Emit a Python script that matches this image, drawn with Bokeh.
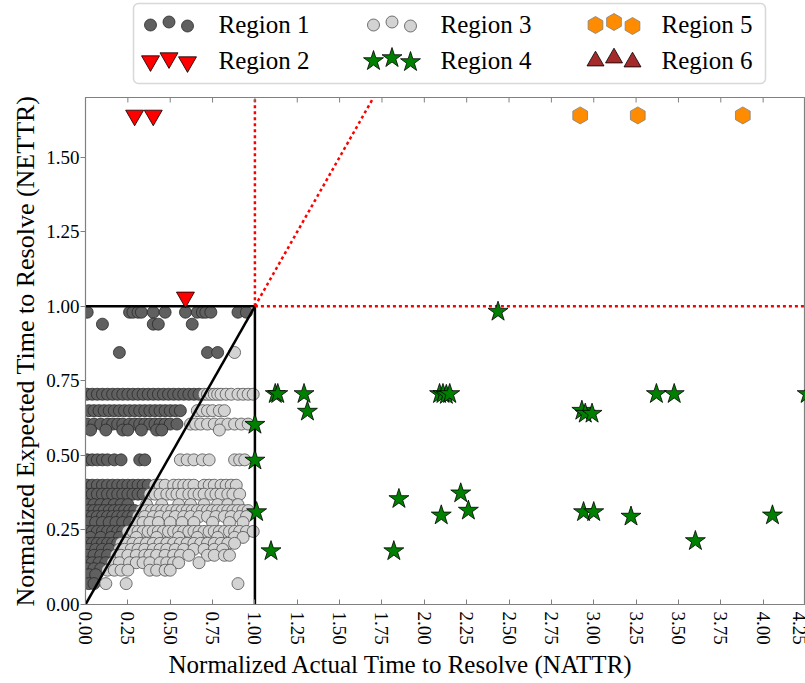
from math import pi

from bokeh.core.properties import value
from bokeh.embed import file_html
from bokeh.layouts import column
from bokeh.models import (BoxAnnotation, FixedTicker, NumeralTickFormatter, Range1d, Title)
from bokeh.plotting import figure
from bokeh.resources import INLINE

FONT = "Liberation Serif"

# ---------------------------------------------------------------- data
# Region 1: NATTR < NETTR inside the unit box (one list of NATTR values per NETTR level)
r1_levels = [0.98, 0.94, 0.845, 0.705, 0.65, 0.605, 0.585, 0.485, 0.40, 0.37, 0.335,
             0.315, 0.295, 0.275, 0.245, 0.225, 0.205, 0.185, 0.165, 0.14, 0.12, 0.10, 0.07]
r1_nattr = [
    [0.01, 0.26, 0.28, 0.31, 0.33, 0.40, 0.47, 0.59, 0.66, 0.69, 0.71, 0.74, 0.90, 0.95],
    [0.10, 0.40, 0.43, 0.63],
    [0.20, 0.72, 0.78],
    [0.01, 0.04, 0.07, 0.10, 0.13, 0.16, 0.19, 0.22, 0.25, 0.28, 0.31, 0.34, 0.37, 0.40,
     0.43, 0.46, 0.49, 0.52, 0.55, 0.58, 0.61, 0.64, 0.67],
    [0.02, 0.05, 0.08, 0.11, 0.14, 0.17, 0.20, 0.23, 0.26, 0.29, 0.32, 0.35, 0.38, 0.41,
     0.44, 0.47, 0.50, 0.53, 0.56],
    [0.01, 0.05, 0.09, 0.13, 0.16, 0.19, 0.22, 0.26, 0.29, 0.32, 0.35, 0.38, 0.41, 0.44,
     0.47, 0.50, 0.54],
    [0.03, 0.12, 0.22, 0.25, 0.33, 0.42, 0.45],
    [0.01, 0.04, 0.07, 0.10, 0.13, 0.17, 0.21, 0.32, 0.35],
    [0.01, 0.04, 0.07, 0.10, 0.13, 0.16, 0.19, 0.22, 0.25, 0.28, 0.31, 0.34, 0.37],
    [0.01, 0.04, 0.07, 0.10, 0.13, 0.16, 0.19, 0.22, 0.25, 0.28, 0.31, 0.34],
    [0.01, 0.05, 0.09, 0.13, 0.17, 0.21, 0.25],
    [0.02, 0.05, 0.08, 0.11, 0.14, 0.17, 0.20, 0.23, 0.26, 0.29],
    [0.01, 0.04, 0.07, 0.10, 0.13, 0.16, 0.19, 0.22, 0.25, 0.28],
    [0.02, 0.06, 0.10, 0.14, 0.18, 0.22, 0.26],
    [0.01, 0.04, 0.07, 0.10, 0.13, 0.16, 0.19, 0.22],
    [0.03, 0.09, 0.15, 0.20],
    [0.01, 0.04, 0.07, 0.10, 0.13, 0.16, 0.19],
    [0.02, 0.06, 0.10, 0.14],
    [0.01, 0.05, 0.09, 0.13],
    [0.01, 0.04, 0.08, 0.12],
    [0.01, 0.05, 0.09],
    [0.02, 0.06],
    [0.02, 0.05],
]

# Region 3: NATTR > NETTR inside the unit box
r3_levels = [0.845, 0.705, 0.65, 0.605, 0.585, 0.485, 0.40, 0.37, 0.335, 0.315, 0.295,
             0.275, 0.245, 0.225, 0.205, 0.185, 0.165, 0.14, 0.115, 0.07]
r3_nattr = [
    [0.88],
    [0.70, 0.72, 0.74, 0.76, 0.78, 0.80, 0.83, 0.86, 0.90, 0.93, 0.96, 0.99],
    [0.66, 0.69, 0.72, 0.75, 0.79, 0.82],
    [0.62, 0.65, 0.68, 0.72, 0.76, 0.80, 0.84, 0.88, 0.92, 0.96],
    [0.79],
    [0.56, 0.60, 0.64, 0.69, 0.73, 0.88, 0.91, 0.94],
    [0.41, 0.44, 0.47, 0.52, 0.55, 0.58, 0.61, 0.64, 0.70, 0.73, 0.76, 0.80, 0.83, 0.86, 0.89],
    [0.38, 0.41, 0.44, 0.48, 0.51, 0.54, 0.57, 0.61, 0.64, 0.67, 0.70, 0.74, 0.77, 0.80,
     0.84, 0.87, 0.91],
    [0.36, 0.45, 0.55, 0.62, 0.70, 0.78, 0.84, 0.90],
    [0.33, 0.36, 0.39, 0.42, 0.45, 0.48, 0.51, 0.54, 0.57, 0.60, 0.63, 0.66, 0.69, 0.72,
     0.75, 0.78, 0.81, 0.84, 0.87, 0.90, 0.93, 0.96],
    [0.31, 0.35, 0.40, 0.44, 0.49, 0.53, 0.58, 0.62, 0.67, 0.72, 0.77, 0.82, 0.86, 0.91, 0.95],
    [0.30, 0.34, 0.38, 0.43, 0.50, 0.57, 0.64, 0.75, 0.85, 0.93],
    [0.25, 0.28, 0.31, 0.34, 0.37, 0.40, 0.43, 0.46, 0.49, 0.52, 0.55, 0.58, 0.61, 0.64,
     0.67, 0.70, 0.73, 0.76, 0.79, 0.82, 0.85, 0.88, 0.91, 0.95, 0.99],
    [0.30, 0.42, 0.55, 0.66, 0.78, 0.88, 0.93],
    [0.21, 0.24, 0.28, 0.32, 0.36, 0.40, 0.44, 0.48, 0.52, 0.56, 0.60, 0.64, 0.68, 0.72,
     0.76, 0.80, 0.84, 0.88],
    [0.20, 0.23, 0.27, 0.31, 0.35, 0.40, 0.44, 0.48, 0.53, 0.58, 0.64, 0.70, 0.76, 0.81],
    [0.18, 0.21, 0.25, 0.30, 0.35, 0.38, 0.42, 0.47, 0.52, 0.56, 0.61, 0.72, 0.76, 0.82, 0.85],
    [0.16, 0.20, 0.26, 0.30, 0.34, 0.38, 0.44, 0.48, 0.52, 0.55, 0.67],
    [0.13, 0.17, 0.21, 0.25, 0.38, 0.42, 0.47, 0.50],
    [0.12, 0.24, 0.90],
]

# Region 2: NETTR above the box, NATTR inside it
r2_x = [0.29, 0.40, 0.59]
r2_y = [1.64, 1.64, 1.03]

# Region 4: NATTR above 1, NETTR below 1
r4_x = [1.12, 1.135, 1.29, 1.31, 1.00, 1.00, 1.01, 1.095, 1.82, 1.85, 2.10, 2.215, 2.26,
        2.09, 2.11, 2.13, 2.15, 2.93, 2.95, 2.99, 2.94, 3.00, 3.22, 3.37, 3.475, 3.60,
        4.055, 4.26, 2.435]
r4_y = [0.706, 0.706, 0.706, 0.647, 0.603, 0.483, 0.31, 0.179, 0.179, 0.354, 0.299, 0.373,
        0.315, 0.706, 0.706, 0.703, 0.706, 0.65, 0.64, 0.64, 0.31, 0.31, 0.295, 0.706,
        0.706, 0.213, 0.299, 0.706, 0.982]

# Region 5: both above 1
r5_x = [2.92, 3.26, 3.88]
r5_y = [1.64, 1.64, 1.64]

# Region 6: no tickets
r6_x = []
r6_y = []

X_TICKS = [0.0, 0.25, 0.5, 0.75, 1.0, 1.25, 1.5, 1.75, 2.0, 2.25, 2.5, 2.75, 3.0, 3.25,
           3.5, 3.75, 4.0, 4.25]
Y_TICKS = [0.0, 0.25, 0.5, 0.75, 1.0, 1.25, 1.5]
X_MAX = 4.25
Y_MAX = 1.70
LIMIT = 1.0  # normalised threshold on both axes


def flatten(levels, rows):
    xs, ys = [], []
    for y, row in zip(levels, rows):
        xs.extend(row)
        ys.extend([y] * len(row))
    return xs, ys


r1_x, r1_y = flatten(r1_levels, r1_nattr)
r3_x, r3_y = flatten(r3_levels, r3_nattr)

STYLES = {
    "Region 1": dict(marker="circle", fill_color="#606060", line_color="#2a2a2a", size=12, line_width=0.8),
    "Region 2": dict(marker="inverted_triangle", fill_color="#ff0000", line_color="#000000", size=18, line_width=0.8),
    "Region 3": dict(marker="circle", fill_color="#d3d3d3", line_color="#505050", size=12, line_width=0.8),
    "Region 4": dict(marker="star", fill_color="#008000", line_color="#000000", size=21, line_width=0.8),
    "Region 5": dict(marker="hex", fill_color="#ff8c00", line_color="#808080", size=17, line_width=0.8, angle=pi / 2),
    "Region 6": dict(marker="triangle", fill_color="#a52a2a", line_color="#000000", size=17, line_width=0.8),
}

# ---------------------------------------------------------------- main plot
p = figure(width=805, height=593, x_range=Range1d(0, X_MAX), y_range=Range1d(0, Y_MAX),
           output_backend="svg", toolbar_location=None,
           min_border_left=85, min_border_right=0, min_border_top=7, min_border_bottom=79)
p.grid.visible = False
p.outline_line_color = "#808080"
p.outline_line_width = 1.2
p.background_fill_color = "white"

p.scatter(r1_x, r1_y, **STYLES["Region 1"])
p.scatter(r3_x, r3_y, **STYLES["Region 3"])

# region boundaries
p.line([0, LIMIT], [0, LIMIT], line_color="black", line_width=2.5)
p.line([0, LIMIT], [LIMIT, LIMIT], line_color="black", line_width=2.5)
p.line([LIMIT, LIMIT], [0, LIMIT], line_color="black", line_width=2.5)
dotted = dict(line_color="#ff0000", line_width=2.5, line_dash="3 3")
p.line([LIMIT, LIMIT], [LIMIT, Y_MAX], **dotted)
p.line([LIMIT, X_MAX], [LIMIT, LIMIT], **dotted)
p.line([LIMIT, Y_MAX], [LIMIT, Y_MAX], **dotted)

p.scatter(r2_x, r2_y, **STYLES["Region 2"])
p.scatter(r4_x, r4_y, **STYLES["Region 4"])
p.scatter(r5_x, r5_y, **STYLES["Region 5"])
p.scatter(r6_x, r6_y, **STYLES["Region 6"])

# inward tick marks along the top edge (the half outside the frame is clipped)
p.scatter(X_TICKS, [Y_MAX] * len(X_TICKS), marker="dash", angle=pi / 2, size=10,
          line_color="#808080", line_width=1)

xa = p.xaxis[0]
xa.ticker = FixedTicker(ticks=X_TICKS)
xa.formatter = NumeralTickFormatter(format="0.00")
xa.major_label_orientation = "vertical"
xa.major_tick_in = 5
xa.major_tick_out = 0
xa.major_label_standoff = 7

ya = p.yaxis[0]
ya.ticker = FixedTicker(ticks=Y_TICKS)
ya.formatter = NumeralTickFormatter(format="0.00")
ya.major_tick_in = 0
ya.major_tick_out = 5
ya.major_label_standoff = 1
ya.axis_label = "Normalized Expected Time to Resolve (NETTR)"
ya.axis_label_standoff = 3

for ax in (xa, ya):
    ax.minor_tick_line_color = None
    ax.axis_line_color = "#808080"
    ax.major_tick_line_color = "#808080"
    ax.major_tick_line_width = 1
    ax.major_label_text_font = FONT
    ax.major_label_text_font_size = "19px"
    ax.major_label_text_color = "black"
    ax.axis_label_text_font = FONT
    ax.axis_label_text_font_style = "normal"
    ax.axis_label_text_color = "black"
ya.axis_label_text_font_size = "26px"

p.add_layout(Title(text="Normalized Actual Time to Resolve (NATTR)", align="left",
                   offset=83, standoff=2, text_font=FONT, text_font_size="25px",
                   text_font_style="normal", text_color="black"), "below")

# ---------------------------------------------------------------- legend panel
LEGEND_ORDER = ["Region 1", "Region 2", "Region 3", "Region 4", "Region 5", "Region 6"]
# the legend frame lines up with the plot frame below it, which starts 85 px in
leg = figure(width=805, height=90, x_range=Range1d(85, 805), y_range=Range1d(90, 0),
             output_backend="svg", toolbar_location=None, x_axis_type=None, y_axis_type=None,
             min_border=0)
leg.grid.visible = False
leg.outline_line_color = None
leg.add_layout(BoxAnnotation(left=133, right=765, top=3, bottom=83, fill_color="white",
                             fill_alpha=1, line_color="#7f7f7f", line_width=1.5,
                             border_radius=5, level="underlay"))
col_marker_x = [150, 373, 595]
col_text_x = [218, 440, 661]
row_y = [24, 60]
marker_step = 18.5
marker_dy = [0.5, -2.5, 1.5]
for i, name in enumerate(LEGEND_ORDER):
    c, r = divmod(i, 2)
    mx = [col_marker_x[c] + k * marker_step for k in range(3)]
    my = [row_y[r] + d for d in marker_dy]
    leg.scatter(mx, my, **STYLES[name])
    leg.text([col_text_x[c]], [row_y[r]], text=[name], text_font=value(FONT),
             text_font_size="25px", text_baseline="middle", text_align="left",
             text_color="black")

layout = column(leg, p, spacing=0)
open("out.html", "w").write(file_html(layout, INLINE))
